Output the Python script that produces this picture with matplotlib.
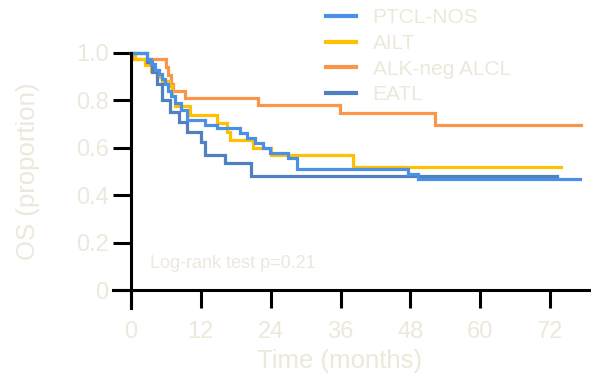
import matplotlib
matplotlib.use("Agg")
import matplotlib.pyplot as plt

# colores y fuente
plt.rcParams['font.family'] = ['Liberation Sans', 'DejaVu Sans']
texto = "#ECE8DA"

# DATOS (tiempo del evento, supervivencia despues del evento)
grupos = ["PTCL-NOS", "AILT", "ALK-neg ALCL", "EATL"]
colores = ["#4A90E6", "#FFC000", "#F9964A", "#5080BF"]

ptcl_t = [2.7, 3.5, 4.2, 4.8, 5.3, 5.8, 6.3, 6.9, 7.6, 8.6, 9.6, 12.7, 14.7,
          18.7, 19.9, 21.3, 22.7, 23.9, 27.0, 28.5, 47.5, 49.3]
ptcl_s = [0.975, 0.955, 0.93, 0.91, 0.89, 0.87, 0.84, 0.82, 0.79, 0.76, 0.717,
          0.696, 0.682, 0.661, 0.64, 0.619, 0.598, 0.577, 0.556, 0.509, 0.49, 0.468]
ptcl_fin = 77.1

ailt_t = [0.7, 2.5, 3.5, 4.5, 5.3, 6.5, 7.0, 7.6, 10.1, 14.8, 16.5, 17.0, 21.0, 24.0, 38.1]
ailt_s = [0.975, 0.95, 0.925, 0.90, 0.88, 0.86, 0.82, 0.775, 0.738, 0.703, 0.668,
          0.633, 0.60, 0.57, 0.52]
ailt_fin = 73.9

alcl_t = [0.5, 6.0, 6.4, 6.8, 7.3, 9.2, 21.9, 35.9, 52.2]
alcl_s = [0.975, 0.94, 0.905, 0.87, 0.84, 0.809, 0.78, 0.745, 0.696]
alcl_fin = 77.3

eatl_t = [2.7, 3.7, 4.5, 5.3, 6.7, 8.3, 9.6, 12.1, 12.7, 16.2, 20.7]
eatl_s = [0.96, 0.92, 0.87, 0.80, 0.752, 0.71, 0.668, 0.626, 0.57, 0.535, 0.481]
eatl_fin = 73.2

tiempos = [ptcl_t, ailt_t, alcl_t, eatl_t]
superv = [ptcl_s, ailt_s, alcl_s, eatl_s]
finales = [ptcl_fin, ailt_fin, alcl_fin, eatl_fin]

xticks = [0, 12, 24, 36, 48, 60, 72]
yticks = [0, 0.2, 0.4, 0.6, 0.8, 1.0]
ylabels = ["0", "0.2", "0.4", "0.6", "0.8", "1.0"]

# GRAFICO
fig = plt.figure(figsize=(5.91, 3.78), dpi=100)
ax = fig.add_axes([0.191, 0.185, 0.809, 0.675])

lineas = {}
for i in [2, 1, 3, 0]:
    x = [0] + tiempos[i] + [finales[i]]
    y = [1.0] + superv[i] + [superv[i][-1]]
    l, = ax.step(x, y, where='post', color=colores[i], lw=2.3, clip_on=False,
                 label=grupos[i], solid_joinstyle='miter')
    lineas[i] = l

ax.set_xlim(-3.1, 79)
ax.set_ylim(-0.076, 1.0)
ax.spines['left'].set_position(('data', 0))
ax.spines['bottom'].set_position(('data', 0))
ax.spines['right'].set_visible(False)
ax.spines['top'].set_visible(False)
for s in ['left', 'bottom']:
    ax.spines[s].set_linewidth(2.2)

ax.set_xticks(xticks)
ax.set_yticks(yticks)
ax.set_yticklabels(ylabels)
ax.tick_params(length=13, width=2.2, colors='black', labelcolor=texto, labelsize=17)
ax.tick_params(axis='x', pad=9)
ax.tick_params(axis='y', pad=3)

ax.set_xlabel("Time (months)", fontsize=18.5, color=texto)
ax.set_ylabel("OS (proportion)", fontsize=18.5, color=texto)
ax.xaxis.set_label_coords(0.475, -0.16)
ax.yaxis.set_label_coords(-0.153, 0.535)

ax.text(3.3, 0.113, "Log-rank test p=0.21", fontsize=13, color=texto, va='center')

# leyenda
hs = [lineas[i] for i in range(4)]
leg = ax.legend(hs, grupos, loc='upper left', bbox_to_anchor=(0.445, 1.175),
                frameon=False, fontsize=15, handlelength=1.45, handletextpad=0.8,
                labelspacing=0.32, borderpad=0, borderaxespad=0)
for t in leg.get_texts():
    t.set_color(texto)
for l in leg.get_lines():
    l.set_linewidth(3)

fig.savefig("out.png", dpi=100)
